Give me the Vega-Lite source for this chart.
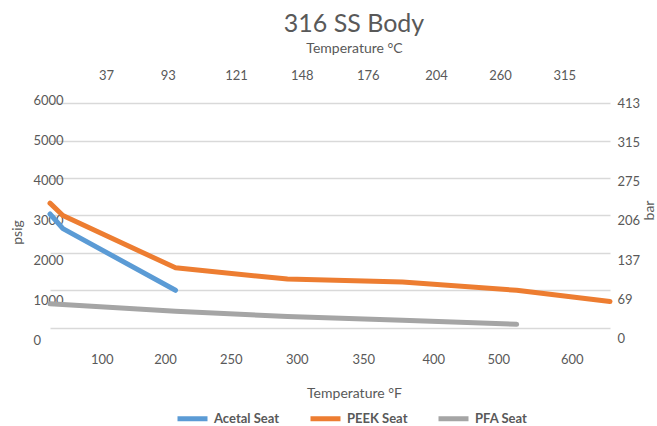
{
  "$schema": "https://vega.github.io/schema/vega-lite/v6.json",
  "width": 560,
  "height": 240,
  "autosize": {"type": "none"},
  "padding": {"left": 50, "top": 100, "right": 47, "bottom": 86},
  "background": "white",
  "config": {
    "view": {"stroke": null},
    "font": "Lato",
    "axis": {"labelFont": "Lato", "titleFont": "Lato", "labelColor": "#595959", "titleColor": "#595959", "labelFontSize": 13, "titleFontSize": 14, "titleFontWeight": "normal", "ticks": false, "tickSize": 0, "domain": false}
  },
  "title": {"text": "316 SS Body", "font": "Lato", "fontSize": 25, "fontWeight": "normal", "color": "#595959", "anchor": "middle", "dx": 24, "dy": 0},
  "data": {
    "values": [
      {"seat": "Acetal Seat", "F": -20, "psig": 3040},
      {"seat": "Acetal Seat", "F": 10, "psig": 2650},
      {"seat": "Acetal Seat", "F": 208, "psig": 1000},
      {"seat": "PEEK Seat", "F": -20, "psig": 3330},
      {"seat": "PEEK Seat", "F": 10, "psig": 3000},
      {"seat": "PEEK Seat", "F": 208, "psig": 1600},
      {"seat": "PEEK Seat", "F": 293, "psig": 1300},
      {"seat": "PEEK Seat", "F": 378, "psig": 1220},
      {"seat": "PEEK Seat", "F": 525, "psig": 1000},
      {"seat": "PEEK Seat", "F": 650, "psig": 700},
      {"seat": "PFA Seat", "F": -20, "psig": 640},
      {"seat": "PFA Seat", "F": 208, "psig": 440},
      {"seat": "PFA Seat", "F": 293, "psig": 300},
      {"seat": "PFA Seat", "F": 378, "psig": 200},
      {"seat": "PFA Seat", "F": 525, "psig": 90}
    ]
  },
  "layer": [
    {
      "mark": {"type": "line", "strokeWidth": 5, "strokeCap": "round", "strokeJoin": "round"},
      "encoding": {
        "x": {
          "field": "F", "type": "quantitative",
          "scale": {"domain": [-20, 100, 200, 250, 300, 350, 400, 500, 600, 650], "range": [0, 51.7, 115, 180.7, 246.7, 313.3, 383.3, 448.3, 521.7, 560], "nice": false, "zero": false},
          "axis": {"orient": "bottom", "values": [100, 200, 250, 300, 350, 400, 500, 600], "format": "d", "grid": false, "labelBaseline": "middle", "labelPadding": 19, "labelFlush": false, "title": "Temperature °F", "titleX": 304, "titleY": 53, "titleBaseline": "middle", "titleAlign": "center"}
        },
        "y": {
          "field": "psig", "type": "quantitative",
          "scale": {"domain": [-329, 6088], "nice": false, "zero": false},
          "axis": {"orient": "left", "values": [0, 1000, 2000, 3000, 4000, 5000, 6000], "grid": true, "gridColor": "#D9D9D9", "gridWidth": 1.3, "labels": false, "title": null}
        },
        "color": {
          "field": "seat", "type": "nominal",
          "scale": {"domain": ["Acetal Seat", "PEEK Seat", "PFA Seat"], "range": ["#5B9BD5", "#ED7D31", "#A5A5A5"]},
          "legend": {"orient": "none", "legendX": 125, "legendY": 301, "direction": "horizontal", "columns": 3, "title": null, "symbolType": "stroke", "symbolSize": 900, "symbolStrokeWidth": 5, "labelFont": "Lato", "labelFontSize": 13, "labelFontWeight": "bold", "labelColor": "#595959", "labelOffset": 4, "columnPadding": 20}
        }
      }
    },
    {
      "mark": {"type": "point", "opacity": 0},
      "encoding": {
        "x": {
          "field": "F", "type": "quantitative",
          "scale": {"domain": [100, 200, 250, 300, 350, 400, 500, 600], "range": [56, 117.7, 186, 251.7, 317.7, 386, 450, 514.3], "nice": false, "zero": false},
          "axis": {"orient": "top", "values": [100, 200, 250, 300, 350, 400, 500, 600], "labelExpr": "floor((datum.value-32)*5/9)", "grid": false, "labelBaseline": "middle", "labelPadding": 25, "labelFlush": false, "title": "Temperature °C", "titleX": 304, "titleY": -52, "titleBaseline": "middle", "titleAlign": "center"}
        },
        "y": {
          "field": "psig", "type": "quantitative",
          "scale": {"domain": [0, 6000], "nice": false, "zero": false},
          "axis": {"orient": "left", "values": [0, 1000, 2000, 3000, 4000, 5000, 6000], "format": "d", "grid": false, "labelAlign": "left", "labelPadding": 17, "title": "psig", "titleX": -33, "titleY": 132, "titleAngle": -90, "titleBaseline": "middle", "titleAlign": "center"}
        }
      }
    },
    {
      "mark": {"type": "point", "opacity": 0},
      "encoding": {
        "y": {
          "field": "psig", "type": "quantitative",
          "scale": {"domain": [-40, 6085], "nice": false, "zero": false},
          "axis": {"orient": "right", "values": [0, 1000, 2000, 3000, 4000, 5000, 6000], "labelExpr": "['0','69','137','206','275','315','413'][round(datum.value/1000)]", "grid": false, "labelAlign": "left", "labelPadding": 7, "title": "bar", "titleX": 39, "titleY": 110, "titleAngle": -90, "titleBaseline": "middle", "titleAlign": "center"}
        }
      }
    }
  ],
  "resolve": {"scale": {"x": "independent", "y": "independent"}}
}
